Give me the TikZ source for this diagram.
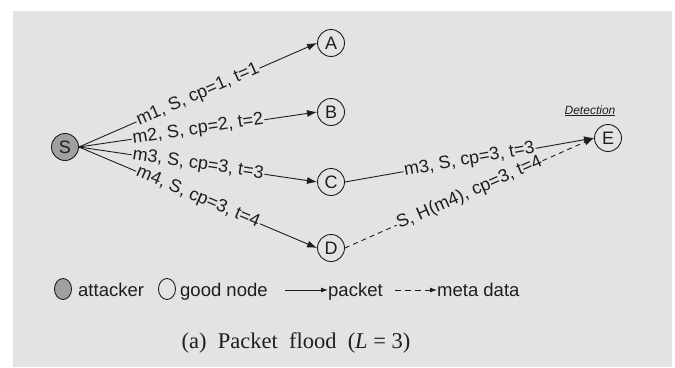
\documentclass[tikz,border=0pt]{standalone}
\usepackage{fontspec}
\setmainfont{Liberation Sans}
\newfontfamily\capfont{Liberation Serif}
\usetikzlibrary{arrows.meta,shapes.geometric}
\definecolor{bg}{HTML}{E3E3E3}
\definecolor{ink}{HTML}{1E1E1E}
\definecolor{att}{HTML}{A0A0A0}
\begin{document}
\begin{tikzpicture}[x=1pt,y=-1pt,
  every node/.style={text=ink},
  nd/.style={circle, draw=ink, line width=0.9pt, minimum size=27pt, inner sep=0pt, font=\fontsize{18}{18}\selectfont},
  lbl/.style={midway, sloped, fill=bg, inner sep=1pt, font=\fontsize{18}{18}\selectfont},
  pk/.style={draw=ink, line width=0.9pt, -{Latex[length=10pt,width=7pt]}},
  md/.style={pk, dash pattern=on 5pt off 4pt},
  lg/.style={anchor=base west, inner sep=0pt, font=\fontsize{18.5}{18.5}\selectfont},
  lgc/.style={ellipse, draw=ink, line width=0.9pt, minimum width=17pt, minimum height=21pt, inner sep=0pt},
]
\fill[white] (0,0) rectangle (675,367);
\fill[bg] (13,11) rectangle (672,367);
\useasboundingbox (0,0) rectangle (675,367);

\node[nd, fill=att] (S) at (65,147) {S};
\node[nd] (A) at (331,43) {A};
\node[nd] (B) at (331,112) {B};
\node[nd] (C) at (331,182) {C};
\node[nd] (D) at (331,248) {D};
\node[nd] (E) at (608,138) {E};
\node[anchor=base, inner sep=0pt, font=\itshape\fontsize{12}{12}\selectfont] (det) at (590,114) {\underline{Detection}};

\draw[pk] (S.east) -- node[lbl] {m1, S, cp=1, t=1} (A.west);
\draw[pk] (S.east) -- node[lbl] {m2, S, cp=2, t=2} (B.west);
\draw[pk] (S.east) -- node[lbl] {m3, S, cp=3, t=3} (C.west);
\draw[pk] (S.east) -- node[lbl] {m4, S, cp=3, t=4} (D.west);
\draw[pk] (C.east) -- node[lbl] {m3, S, cp=3, t=3} (E.west);
\draw[md] (D.east) -- node[lbl] {S, H(m4), cp=3, t=4} (E.west);

% legend
\node[lgc, fill=att] (la) at (63,289) {};
\node[lg] (lat) at (78,296) {attacker};
\node[lgc] (lb) at (167,289) {};
\node[lg] (lbt) at (180,296) {good node};
\coordinate (p0) at (285,290);
\node[lg] (lpt) at (328,296) {packet};
\draw[pk, -{Latex[length=7pt,width=5pt]}] (p0) -- (lpt.west |- p0);
\coordinate (m0) at (395,290);
\node[lg] (lmt) at (437,296) {meta data};
\draw[md, dash pattern=on 6pt off 4pt, -{Latex[length=7pt,width=5pt]}] (m0) -- (lmt.west |- m0);

\node[anchor=base, inner sep=0pt, font=\capfont\fontsize{22.5}{22.5}\selectfont] (cap) at (296,348) {(a)\ \ Packet\ \ flood\ \ (\textit{L} = 3)};
\end{tikzpicture}
\end{document}
